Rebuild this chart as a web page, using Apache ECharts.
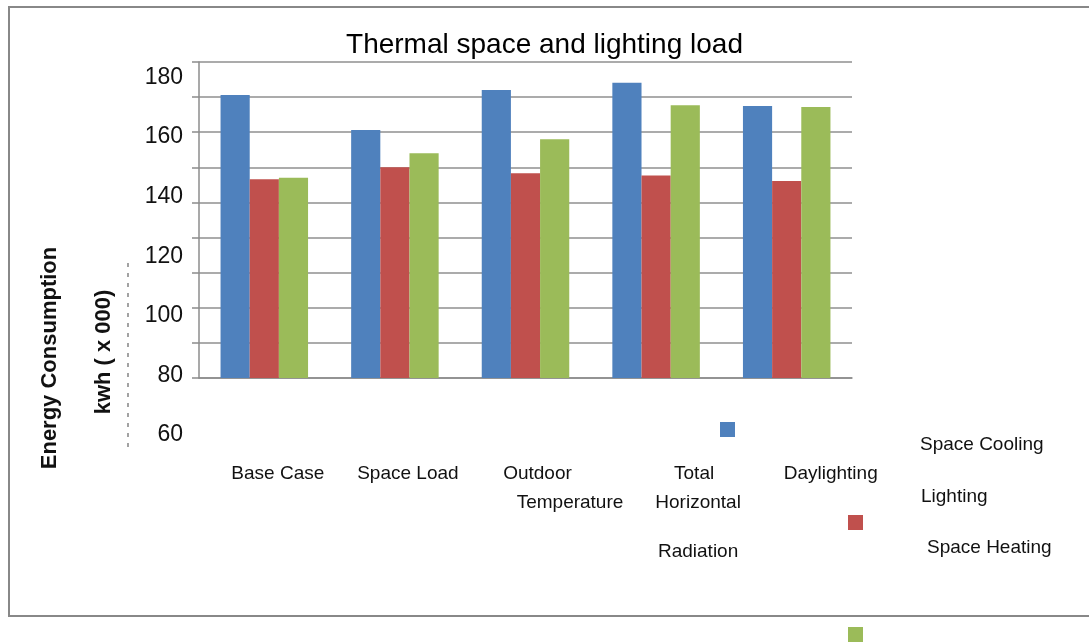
<!DOCTYPE html>
<html>
<head>
<meta charset="utf-8">
<script src="https://cdn.jsdelivr.net/npm/echarts@6/dist/echarts.min.js"></script>
<style>
html,body{margin:0;padding:0;background:#fff;}
#chart{width:1089px;height:642px;}
</style>
</head>
<body>
<div id="chart"></div>
<script>
// ---- data ----
const titleText = 'Thermal space and lighting load';
const categories = ['Base Case', 'Space Load', 'Outdoor Temperature', 'Total Horizontal Radiation', 'Daylighting'];
const seriesNames = ['Space Cooling', 'Lighting', 'Space Heating'];
const spaceCooling = [160.6, 150.6, 162.0, 164.1, 157.5];
const lighting = [136.6, 140.0, 138.3, 137.7, 136.1];
const spaceHeating = [137.0, 144.0, 148.0, 157.7, 157.2];
const tickLabels = ['60', '80', '100', '120', '140', '160', '180'];
const yNameLines = ['Energy Consumption', 'kwh ( x 000)'];

const colors = ['#4F81BD', '#C0504D', '#9BBB59'];
const FONT = '"Liberation Sans", Arial, sans-serif';

// category label layout (line splits & offsets)
const catLabelMarkup = [
  '{b0|Base Case}',
  '{b1|Space Load}',
  '{o1|Outdoor}\n{o2|Temperature}',
  '{t1|Total}\n{t2|Horizontal}\n{t3|Radiation}',
  '{d1|Daylighting}'
];
function richItem(pad, lh) {
  return {fontSize: 19, lineHeight: lh || 29, color: '#111', fontFamily: FONT, padding: [0, 0, 0, pad]};
}

const chart = echarts.init(document.getElementById('chart'));
const labelMin = Number(tickLabels[0]);
const labelMax = Number(tickLabels[tickLabels.length - 1]);

function legendIcon(i, left, top) {
  return {
    data: [seriesNames[i]], left: left, top: top, padding: 0,
    icon: 'rect', itemWidth: 15, itemHeight: 15,
    formatter: function () { return ''; },
    selectedMode: false
  };
}
function legendText(i, left, top) {
  return {
    data: [{name: seriesNames[i], icon: 'none'}], left: left, top: top, padding: 0,
    itemWidth: 0, itemHeight: 20, selectedMode: false,
    textStyle: {fontSize: 19, color: '#111', fontFamily: FONT}
  };
}

const option = {
  animation: false,
  backgroundColor: '#fff',
  color: colors,
  textStyle: {fontFamily: FONT},
  title: {
    text: titleText, left: 'center', top: 31, padding: 0,
    textStyle: {fontSize: 28, fontWeight: 'normal', color: '#000', fontFamily: FONT}
  },
  legend: [
    legendIcon(0, 720, 422),
    legendIcon(1, 848, 515),
    legendIcon(2, 848, 627),
    legendText(0, 915, 435),
    legendText(1, 916, 487),
    legendText(2, 922, 537.5)
  ],
  grid: [
    {left: 199, right: 237, top: 62, bottom: 264},
    {left: 199, right: 237, top: 77.5, bottom: 207}
  ],
  xAxis: [
    {
      type: 'category', data: categories, gridIndex: 0,
      axisLine: {lineStyle: {color: '#8c8c8c', width: 1.5}},
      axisTick: {length: 6, lineStyle: {color: '#8c8c8c', width: 1.5}},
      axisLabel: {
        interval: 0, margin: 81.5, color: '#111',
        formatter: function (v, idx) { return catLabelMarkup[idx]; },
        rich: {
          b0: richItem(27), b1: richItem(26), o1: richItem(24), o2: richItem(89),
          t1: richItem(76), t2: richItem(84), t3: richItem(84, 69), d1: richItem(88)
        }
      }
    },
    {type: 'value', gridIndex: 1, show: false, min: 0, max: 1}
  ],
  yAxis: [
    {
      type: 'value', gridIndex: 0, min: 80, max: 170, interval: 10,
      axisLine: {show: true, lineStyle: {color: '#8c8c8c', width: 1.5}},
      axisTick: {show: true, length: 7, lineStyle: {color: '#8c8c8c', width: 1.5}},
      axisLabel: {show: false},
      splitLine: {show: true, lineStyle: {color: '#8f8f8f', width: 1.5}}
    },
    {
      type: 'value', gridIndex: 1, min: labelMin, max: labelMax, interval: 20,
      axisLine: {show: false}, axisTick: {show: false}, splitLine: {show: false},
      axisLabel: {
        margin: 16, fontSize: 23, color: '#111', fontFamily: FONT,
        formatter: function (v) { const s = String(v); return tickLabels.indexOf(s) >= 0 ? s : ''; }
      }
    }
  ],
  series: [
    {name: seriesNames[0], type: 'bar', data: spaceCooling, barGap: '0%', barCategoryGap: '33%', xAxisIndex: 0, yAxisIndex: 0},
    {name: seriesNames[1], type: 'bar', data: lighting, barGap: '0%', barCategoryGap: '33%', xAxisIndex: 0, yAxisIndex: 0},
    {name: seriesNames[2], type: 'bar', data: spaceHeating, barGap: '0%', barCategoryGap: '33%', xAxisIndex: 0, yAxisIndex: 0}
  ],
  graphic: [
    {type: 'rect', silent: true, z: -1,
      shape: {x: 9, y: 7, width: 1200, height: 609},
      style: {fill: 'none', stroke: '#888', lineWidth: 2}},
    {type: 'line', silent: true,
      shape: {x1: 128, y1: 263, x2: 128, y2: 447},
      style: {stroke: '#666', lineWidth: 1.2, lineDash: [4, 6]}},
    {type: 'text', silent: true, x: 50, y: 358, rotation: Math.PI / 2,
      style: {text: yNameLines[0], fontSize: 22, fontWeight: 'bold', fill: '#111', fontFamily: FONT, align: 'center', verticalAlign: 'middle'}},
    {type: 'text', silent: true, x: 104, y: 352, rotation: Math.PI / 2,
      style: {text: yNameLines[1], fontSize: 22, fontWeight: 'bold', fill: '#111', fontFamily: FONT, align: 'center', verticalAlign: 'middle'}}
  ]
};
chart.setOption(option);
</script>
</body>
</html>
